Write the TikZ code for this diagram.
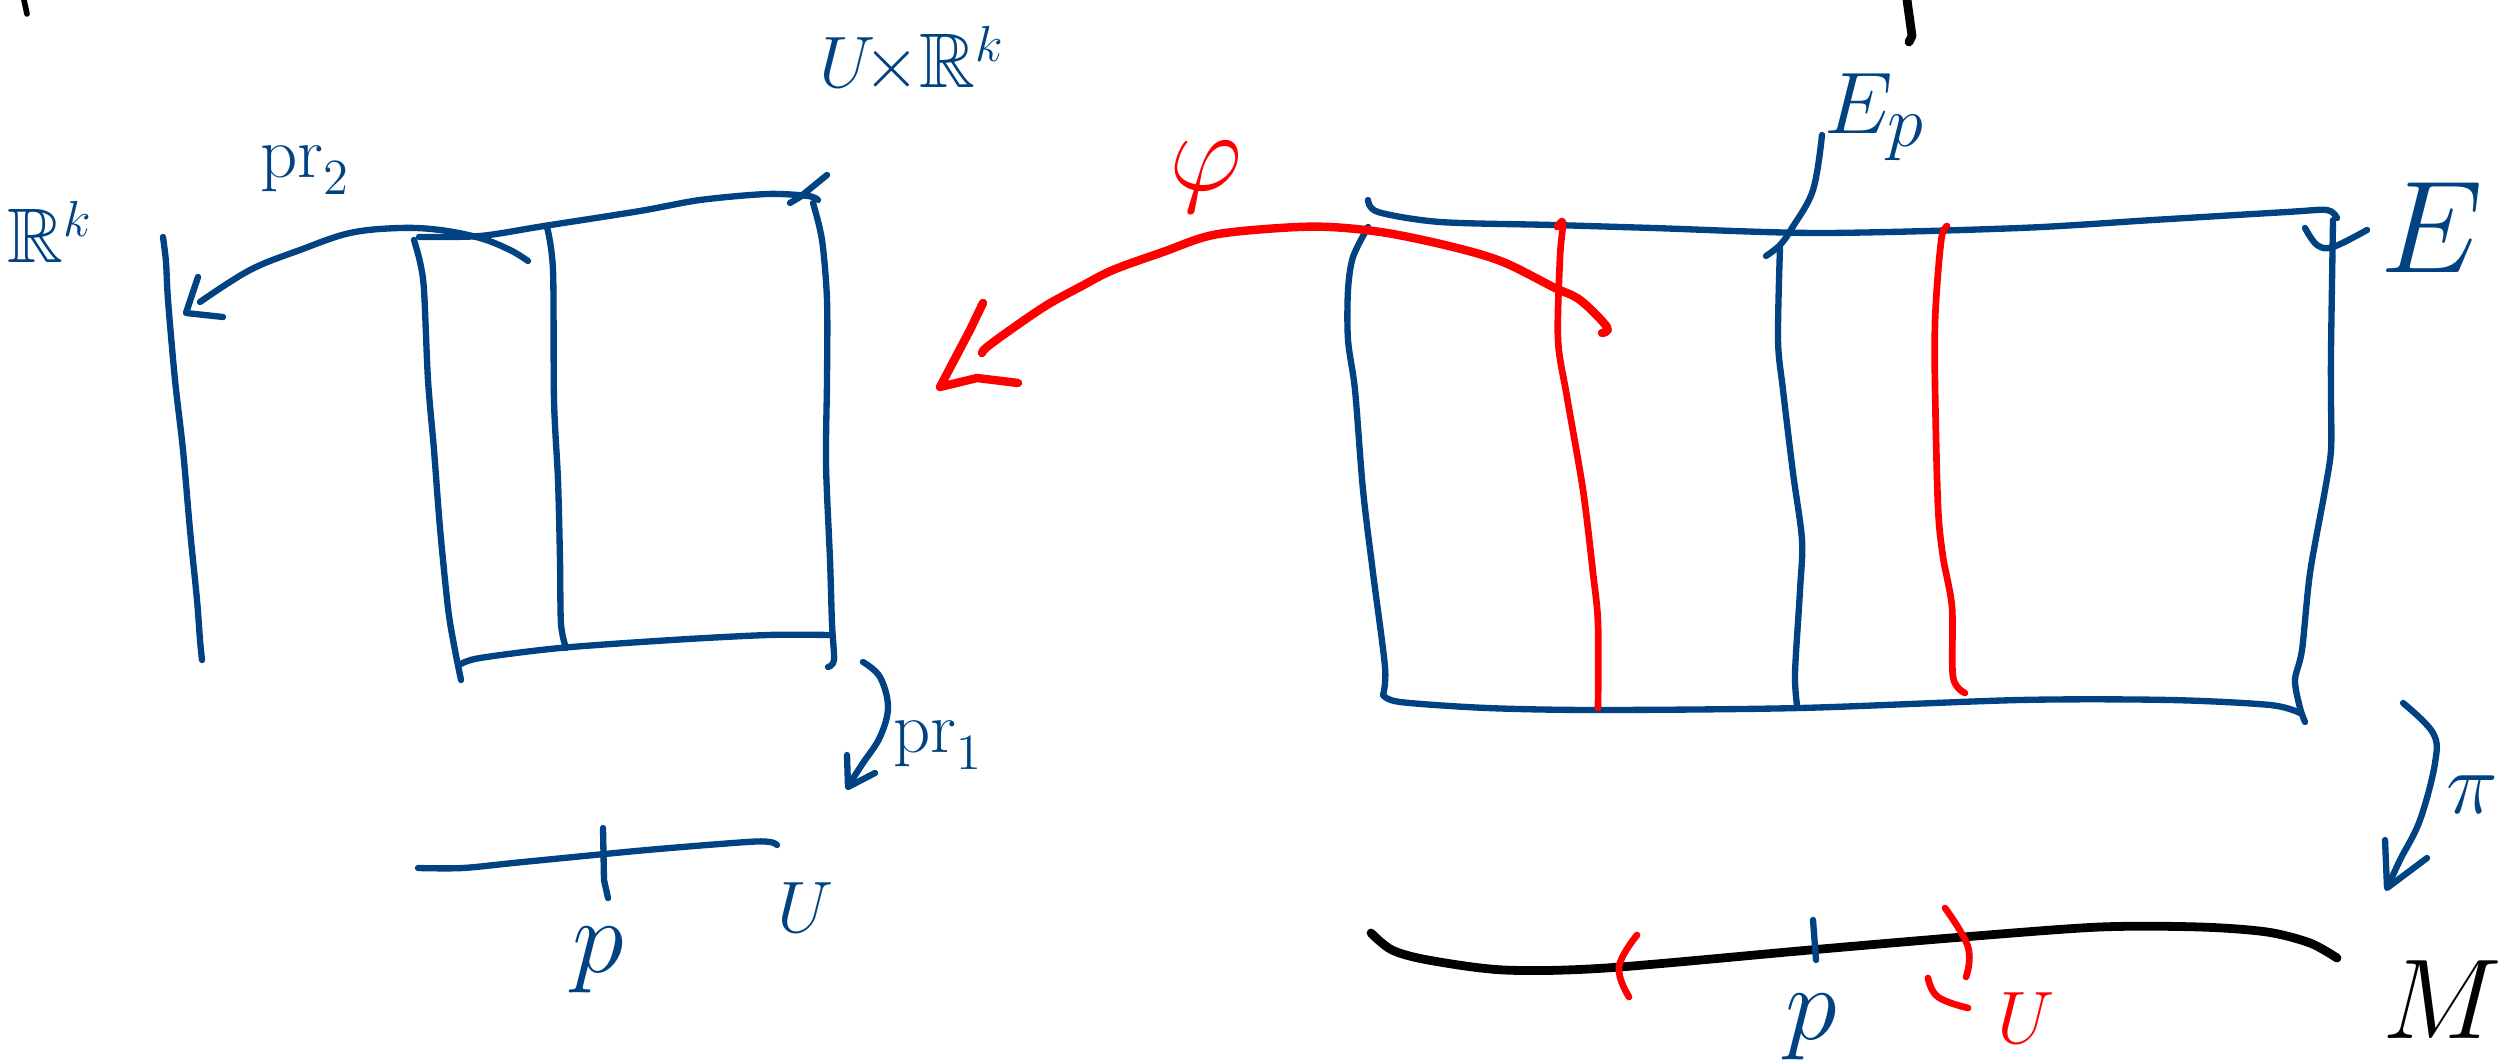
\documentclass[tikz,border=0pt]{standalone}
\usepackage{amssymb}
\definecolor{inkblue}{RGB}{0,66,130}
\definecolor{inkred}{RGB}{255,0,0}
\tikzset{
  bl/.style={draw=inkblue, line width=1.8pt, line cap=round, line join=round},
  rd/.style={draw=inkred, line width=1.9pt, line cap=round, line join=round},
  rdt/.style={draw=inkred, line width=2.4pt, line cap=round, line join=round},
  bk/.style={draw=black, line width=2.5pt, line cap=round, line join=round},
  lb/.style={text=inkblue, inner sep=0pt, font=\fontsize{22}{26}\selectfont},
  lbig/.style={text=inkblue, inner sep=0pt, font=\fontsize{24.88}{28}\selectfont},
  lr/.style={text=inkred, inner sep=0pt, font=\fontsize{24.88}{28}\selectfont},
  lk/.style={text=black, inner sep=0pt, font=\fontsize{24.88}{28}\selectfont},
}
\begin{document}
\begin{tikzpicture}[x=0.01cm,y=-0.01cm]
\useasboundingbox (0,0) rectangle (2509,1061);

% ---------------- stray strokes ----------------
\draw[bk,line width=1.6pt] (24,0) -- (27,14);
\draw[bk] (1907,0) -- (1912,36) -- (1909,42);

% ---------------- left picture: U x R^k ----------------
% fibre R^k
\draw[bl] plot[smooth,tension=0.5] coordinates {(163,237) (166,262) (168,300) (175,380) (183,450) (190,530) (197,600) (200,640) (202,660)};
% box
\draw[bl] plot[smooth,tension=0.5] coordinates {(414,240) (420,262) (424,290) (428,380) (434,450) (440,528) (448,608) (454,645) (461,680)};
\draw[bl] plot[smooth,tension=0.5] coordinates {(419,237) (480,236) (544,226) (640,211) (700,200) (767,194) (808,196) (818,200)};
\draw[bl] plot[smooth,tension=0.5] coordinates {(813,203) (822,240) (827,300) (827,380) (826,464) (830,560) (832,624) (834,660) (828,667)};
\draw[bl] plot[smooth,tension=0.5] coordinates {(461,664) (480,658) (560,648) (672,640) (768,635) (829,635)};
\draw[bl] plot[smooth,tension=0.5] coordinates {(547,227) (553,270) (554,400) (558,480) (560,560) (561,624) (566,648)};
\draw[bl] (790,203) -- (800,197) -- (827,175);
% pr_2 arrow
\coordinate (pr2s) at (528,261);
\coordinate (pr2e) at (200,302);
\draw[bl] plot[smooth,tension=0.6] coordinates {(pr2s) (510,250) (480,238) (440,230) (400,228) (350,233) (300,250) (250,270) (pr2e)};
\draw[bl] (198,277) -- (186,313) -- (223,317);
% base U
\draw[bl] plot[smooth,tension=0.5] coordinates {(418,868) (463,868) (523,862) (647,850) (747,842) (770,842) (777,845)};
\draw[bl] (603,828) -- (604,880) -- (608,898);
% pr_1 arrow
\coordinate (pr1s) at (863,662);
\coordinate (pr1e) at (850,783);
\draw[bl] plot[smooth,tension=0.6] coordinates {(pr1s) (880,677) (888,707) (880,737) (863,763) (pr1e)};
\draw[bl] (847,755) -- (848,787) -- (875,773);

\node[lb] (lRk)  at (50,232) {$\mathbb{R}^k$};
\node[lb] (lpr2) at (305,170) {$\mathrm{pr}_2$};
\node[lb] (lUR)  at (912,60) {$U\!{\times}\mathbb{R}^k$};
\node[lb] (lpr1) at (938,745) {$\mathrm{pr}_1$};
\node[lbig] (lp1)  at (598,960) {\scalebox{1.2}{$p$}};
\node[lb] (lU1)  at (806,908) {$U$};

% ---------------- right picture: E ----------------
\draw[bl] plot[smooth,tension=0.5] coordinates {(1368,200) (1378,212) (1440,222) (1553,225) (1653,228) (1820,233) (2020,228) (2153,220) (2287,212) (2327,210) (2337,218)};
\draw[bl] plot[smooth,tension=0.5] coordinates {(1368,227) (1353,257) (1348,290) (1348,340) (1355,390) (1363,490) (1373,573) (1385,667) (1383,695)};
\draw[bl] plot[smooth,tension=0.5] coordinates {(1383,695) (1400,702) (1487,708) (1598,710) (1800,708) (2020,700) (2170,700) (2270,705) (2300,713)};
\draw[bl] plot[smooth,tension=0.5] coordinates {(2333,220) (2331,350) (2331,400) (2331,450) (2325,490) (2310,573) (2302,650) (2295,680) (2300,708) (2305,722)};
\draw[bl] plot[smooth,tension=0.6] coordinates {(2305,228) (2317,245) (2333,247) (2367,230)};
\draw[bl] plot[smooth,tension=0.5] coordinates {(1780,247) (1778,340) (1783,390) (1793,473) (1802,540) (1800,590) (1795,673) (1797,705)};
% E_p pointer
\draw[bl] plot[smooth,tension=0.6] coordinates {(1822,135) (1813,190) (1792,228) (1780,245) (1766,256)};
% red fibres
\draw[rd] plot[smooth,tension=0.5] coordinates {(1557,227) (1563,222) (1560,257) (1558,340) (1567,397) (1583,490) (1593,573) (1598,623) (1598,708)};
\draw[rd] plot[smooth,tension=0.5] coordinates {(1947,226) (1942,235) (1938,273) (1935,323) (1935,387) (1938,507) (1943,557) (1952,607) (1953,677) (1965,693)};
% phi arrow
\coordinate (phis) at (1602,333);
\coordinate (phie) at (982,353);
\draw[rdt] plot[smooth,tension=0.55] coordinates {(phis) (1607,327) (1580,300) (1553,287) (1503,262) (1453,247) (1387,233) (1330,227) (1280,228) (1213,235) (1163,252) (1113,270) (1080,287) (1047,305) (1013,328) (987,347) (phie)};
\draw[rdt] (983,303) -- (970,330) -- (940,387) -- (977,378) -- (1018,383);
% pi arrow
\coordinate (pis) at (2403,703);
\coordinate (pie) at (2389,884);
\draw[bl] plot[smooth,tension=0.6] coordinates {(pis) (2433,733) (2435,763) (2420,820) (2400,860) (pie)};
\draw[bl] (2385,840) -- (2387,888) -- (2427,858);
% base M
\draw[bk] plot[smooth,tension=0.5] coordinates {(1371,933) (1392,950) (1428,960) (1504,970) (1606,968) (1810,950) (1963,937) (2100,927) (2200,927) (2267,932) (2310,943) (2337,958)};
\draw[rd] plot[smooth,tension=0.7] coordinates {(1637,935) (1619,967) (1629,997)};
\draw[rd] plot[smooth,tension=0.7] coordinates {(1945,908) (1968,947) (1966,977)};
\draw[rd] plot[smooth,tension=0.7] coordinates {(1928,978) (1938,997) (1968,1008)};
\draw[bl] (1813,920) -- (1816,960);

\node[lr] (lphi) at (1206,177) {\scalebox{1.3}{$\varphi$}};
\node[lbig] (lEp) at (1875,117) {$E_p$};
\node[lbig] (lE) at (2432,228) {\scalebox{1.5}{$E$}};
\node[lbig] (lpi) at (2472,795) {$\pi$};
\node[lbig] (lp2) at (1811,1027) {\scalebox{1.2}{$p$}};
\node[lk] (lM) at (2442,1000) {\scalebox{1.3}{$M$}};
\node[lr] (lU2) at (2026,1018) {\scalebox{0.85}{$U$}};
\end{tikzpicture}
\end{document}
